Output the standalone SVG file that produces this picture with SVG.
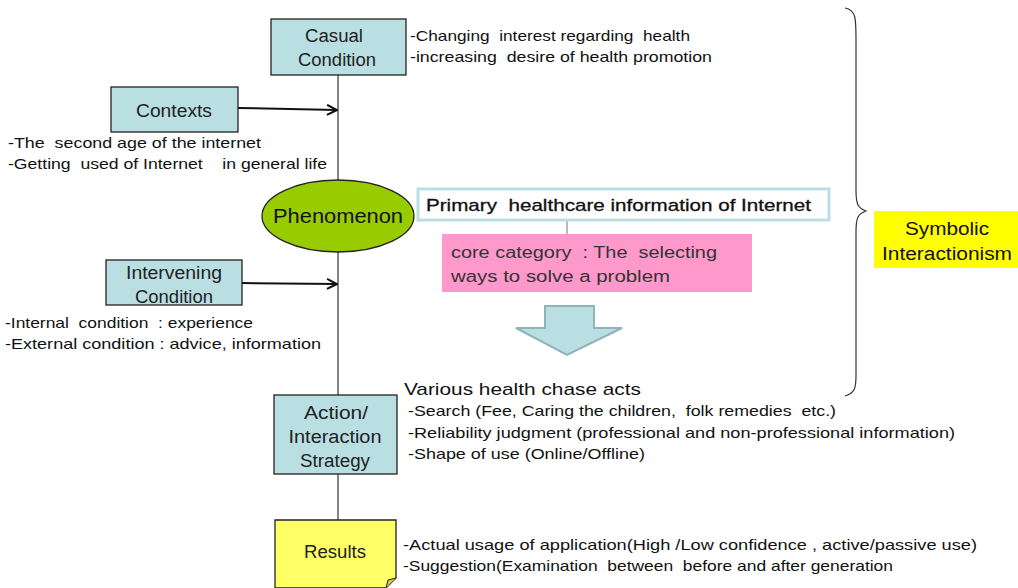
<svg xmlns="http://www.w3.org/2000/svg" width="1018" height="588" viewBox="0 0 1018 588">
<defs>
<style>
text{font-family:"Liberation Sans","DejaVu Sans",sans-serif;fill:#111;}
.box{fill:#b9dfe3;stroke:#222;stroke-width:1.3;}
.lbl{font-size:18px;text-anchor:middle;fill:#222;}
.note{font-size:15px;}
.ln{stroke:#333;stroke-width:1.2;fill:none;}
.arr{stroke:#111;stroke-width:2;fill:none;}
</style>
<marker id="open" viewBox="0 0 12 12" refX="11" refY="6" markerWidth="12" markerHeight="12" markerUnits="userSpaceOnUse" orient="auto">
<path d="M1,1 L11,6 L1,11" fill="none" stroke="#111" stroke-width="2"/>
</marker>
</defs>
<rect width="1018" height="588" fill="#fff"/>

<g id="connectors">
<line class="ln" x1="338" y1="75" x2="338" y2="520"/>
<line class="arr" x1="238" y1="108" x2="337" y2="110" marker-end="url(#open)"/>
<line class="arr" x1="242" y1="283" x2="337" y2="284" marker-end="url(#open)"/>
<line x1="567" y1="220" x2="567" y2="234" stroke="#8888bb" stroke-width="1.2"/>
<path d="M845,8 C856,10 856,18 856,40 L856,190 C856,205 858,208 866,211 C858,214 856,217 856,232 L856,375 C856,388 855,393 845,396" class="ln" stroke-width="1.3"/>
</g>

<g id="casual">
<rect class="box" x="271" y="19" width="135" height="56"/>
<text class="lbl" x="334" y="42" textLength="58" lengthAdjust="spacingAndGlyphs">Casual</text>
<text class="lbl" x="337" y="66" textLength="78" lengthAdjust="spacingAndGlyphs">Condition</text>
<text class="note" x="410" y="41" textLength="280" lengthAdjust="spacingAndGlyphs" xml:space="preserve">-Changing  interest regarding  health</text>
<text class="note" x="410" y="62" textLength="302" lengthAdjust="spacingAndGlyphs" xml:space="preserve">-increasing  desire of health promotion</text>
</g>

<g id="contexts">
<rect class="box" x="111" y="87" width="127" height="45"/>
<text class="lbl" x="174" y="117" textLength="76" lengthAdjust="spacingAndGlyphs">Contexts</text>
<text class="note" x="8" y="148" textLength="253" lengthAdjust="spacingAndGlyphs" xml:space="preserve">-The  second age of the internet</text>
<text class="note" x="8" y="169" textLength="319" lengthAdjust="spacingAndGlyphs" xml:space="preserve">-Getting  used of Internet    in general life</text>
</g>

<g id="phenomenon">
<ellipse cx="338" cy="216" rx="76" ry="36" fill="#99cc00" stroke="#222" stroke-width="1.3"/>
<text x="338" y="223" font-size="20" text-anchor="middle" textLength="130" lengthAdjust="spacingAndGlyphs">Phenomenon</text>
</g>

<g id="primary">
<rect x="418" y="189" width="411" height="31" fill="#fff" stroke="#b9dfe3" stroke-width="3"/>
<text x="426" y="211" font-size="17" textLength="385" lengthAdjust="spacingAndGlyphs" xml:space="preserve" style="stroke:#111;stroke-width:0.3">Primary  healthcare information of Internet</text>
</g>

<g id="core">
<rect x="442" y="234" width="310" height="58" fill="#ff99cc"/>
<text x="451" y="258" font-size="16" textLength="266" lengthAdjust="spacingAndGlyphs" xml:space="preserve" style="fill:#333">core category  : The  selecting</text>
<text x="451" y="282" font-size="16" textLength="219" lengthAdjust="spacingAndGlyphs" style="fill:#333">ways to solve a problem</text>
</g>

<g id="down-arrow">
<path d="M545,306 L594,306 L594,328 L622,328 L567,355 L516,328 L545,328 Z" fill="#b9dfe3" stroke="#8fb3b8" stroke-width="2"/>
</g>

<g id="intervening">
<rect class="box" x="106" y="260" width="136" height="45"/>
<text class="lbl" x="174" y="279" textLength="96" lengthAdjust="spacingAndGlyphs">Intervening</text>
<text class="lbl" x="174" y="303" textLength="78" lengthAdjust="spacingAndGlyphs">Condition</text>
<text class="note" x="5" y="328" textLength="248" lengthAdjust="spacingAndGlyphs" xml:space="preserve">-Internal  condition  : experience</text>
<text class="note" x="5" y="349" textLength="316" lengthAdjust="spacingAndGlyphs">-External condition : advice, information</text>
</g>

<g id="action">
<rect class="box" x="274" y="395" width="123" height="79"/>
<text class="lbl" x="336" y="419" textLength="64" lengthAdjust="spacingAndGlyphs">Action/</text>
<text class="lbl" x="335" y="443" textLength="93" lengthAdjust="spacingAndGlyphs">Interaction</text>
<text class="lbl" x="335" y="467" textLength="70" lengthAdjust="spacingAndGlyphs">Strategy</text>
<text x="404" y="395" font-size="17" textLength="237" lengthAdjust="spacingAndGlyphs">Various health chase acts</text>
<text class="note" x="408" y="416" textLength="428" lengthAdjust="spacingAndGlyphs" xml:space="preserve">-Search (Fee, Caring the children,  folk remedies  etc.)</text>
<text class="note" x="408" y="438" textLength="547" lengthAdjust="spacingAndGlyphs">-Reliability judgment (professional and non-professional information)</text>
<text class="note" x="408" y="459" textLength="237" lengthAdjust="spacingAndGlyphs">-Shape of use (Online/Offline)</text>
</g>

<g id="results">
<path d="M275,520 L396,520 L396,578 L386,588 L275,588 Z" fill="#ffff66" stroke="#222" stroke-width="1.3"/>
<path d="M386,588 L388,580 L396,578" fill="#cccc44" stroke="#222" stroke-width="1"/>
<text class="lbl" x="335" y="558" textLength="62" lengthAdjust="spacingAndGlyphs">Results</text>
<text class="note" x="403" y="550" textLength="574" lengthAdjust="spacingAndGlyphs">-Actual usage of application(High /Low confidence , active/passive use)</text>
<text class="note" x="403" y="571" textLength="490" lengthAdjust="spacingAndGlyphs" xml:space="preserve">-Suggestion(Examination  between  before and after generation</text>
</g>

<g id="symbolic">
<rect x="874" y="211" width="144" height="57" fill="#ffff00"/>
<text class="lbl" x="947" y="235" textLength="84" lengthAdjust="spacingAndGlyphs" style="fill:#111">Symbolic</text>
<text class="lbl" x="947" y="260" textLength="130" lengthAdjust="spacingAndGlyphs" style="fill:#111">Interactionism</text>
</g>
</svg>
